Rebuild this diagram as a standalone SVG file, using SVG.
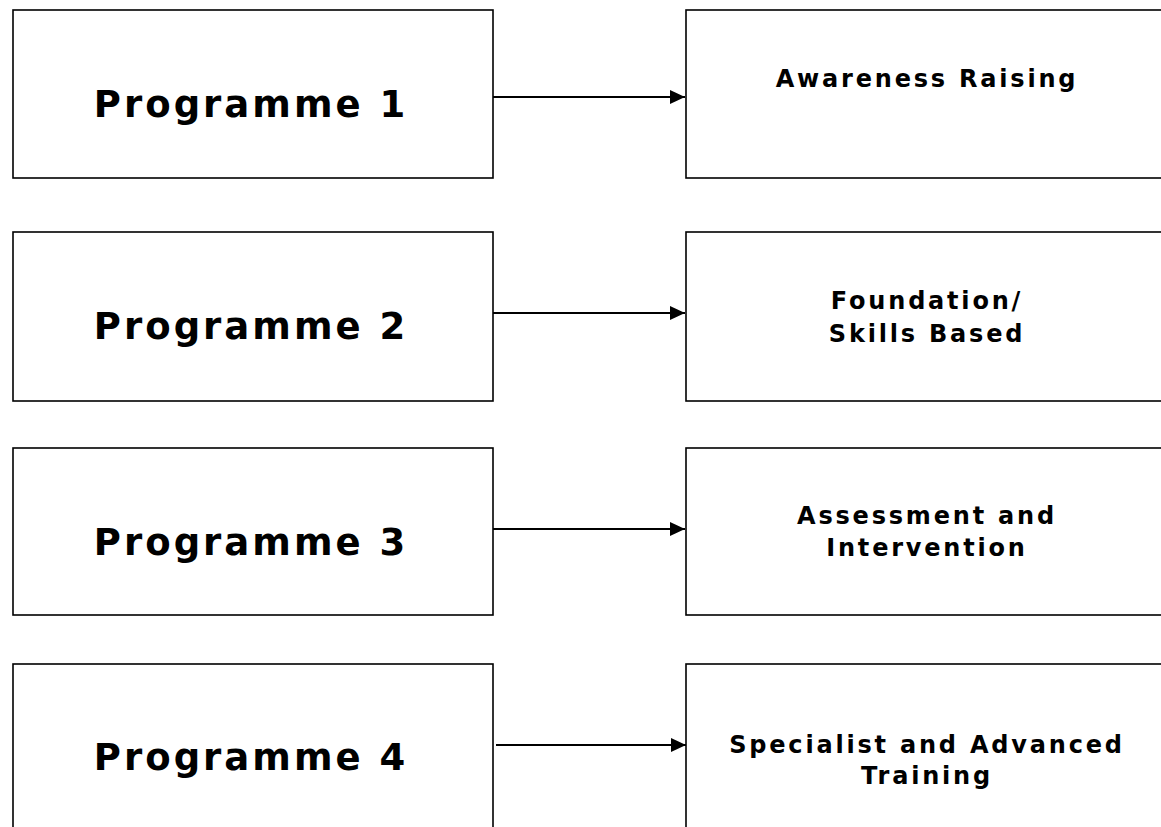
<svg xmlns="http://www.w3.org/2000/svg" width="1161" height="827" viewBox="0 0 1161 827">
  <style>
    .box { fill: #ffffff; stroke: #000000; stroke-width: 1.6; }
    .prog { font-family: "DejaVu Sans", Verdana, sans-serif; font-weight: bold; font-size: 37px; letter-spacing: 3px; fill: #000; text-anchor: middle; }
    .lvl { font-family: "DejaVu Sans", Verdana, sans-serif; font-weight: bold; font-size: 24px; letter-spacing: 2.8px; fill: #000; text-anchor: middle; }
    .conn { stroke: #000; stroke-width: 2; fill: none; }
  </style>
  <defs>
    <marker id="arrow" viewBox="0 0 10 10" refX="10" refY="5" markerWidth="15" markerHeight="14" markerUnits="userSpaceOnUse" orient="auto" preserveAspectRatio="none">
      <path d="M0,0 L10,5 L0,10 z" fill="#000"/>
    </marker>
  </defs>
  <rect width="1161" height="827" fill="#ffffff"/>

  <!-- programme boxes -->
  <g id="programme-1">
    <rect class="box" x="13" y="10" width="480" height="168"/>
    <text class="prog" x="251" y="117">Programme 1</text>
  </g>
  <g id="programme-2">
    <rect class="box" x="13" y="232" width="480" height="169"/>
    <text class="prog" x="251" y="339">Programme 2</text>
  </g>
  <g id="programme-3">
    <rect class="box" x="13" y="448" width="480" height="167"/>
    <text class="prog" x="251" y="555">Programme 3</text>
  </g>
  <g id="programme-4">
    <rect class="box" x="13" y="664" width="480" height="175"/>
    <text class="prog" x="251" y="770">Programme 4</text>
  </g>

  <!-- training levels -->
  <g id="awareness">
    <rect class="box" x="686" y="10" width="480" height="168"/>
    <text class="lvl" x="927" y="87">Awareness Raising</text>
  </g>
  <g id="foundation">
    <rect class="box" x="686" y="232" width="480" height="169"/>
    <text class="lvl" x="927" y="309">Foundation/</text>
    <text class="lvl" x="927" y="342">Skills Based</text>
  </g>
  <g id="assessment">
    <rect class="box" x="686" y="448" width="480" height="167"/>
    <text class="lvl" x="927" y="524">Assessment and</text>
    <text class="lvl" x="927" y="556">Intervention</text>
  </g>
  <g id="specialist">
    <rect class="box" x="686" y="664" width="480" height="175"/>
    <text class="lvl" x="927" y="753">Specialist and Advanced</text>
    <text class="lvl" x="927" y="784">Training</text>
  </g>

  <!-- connectors -->
  <g id="connectors">
    <line class="conn" x1="493" y1="97" x2="685" y2="97" marker-end="url(#arrow)"/>
    <line class="conn" x1="493" y1="313" x2="685" y2="313" marker-end="url(#arrow)"/>
    <line class="conn" x1="493" y1="529" x2="685" y2="529" marker-end="url(#arrow)"/>
    <line class="conn" x1="496" y1="745" x2="686" y2="745" marker-end="url(#arrow)"/>
  </g>
</svg>
